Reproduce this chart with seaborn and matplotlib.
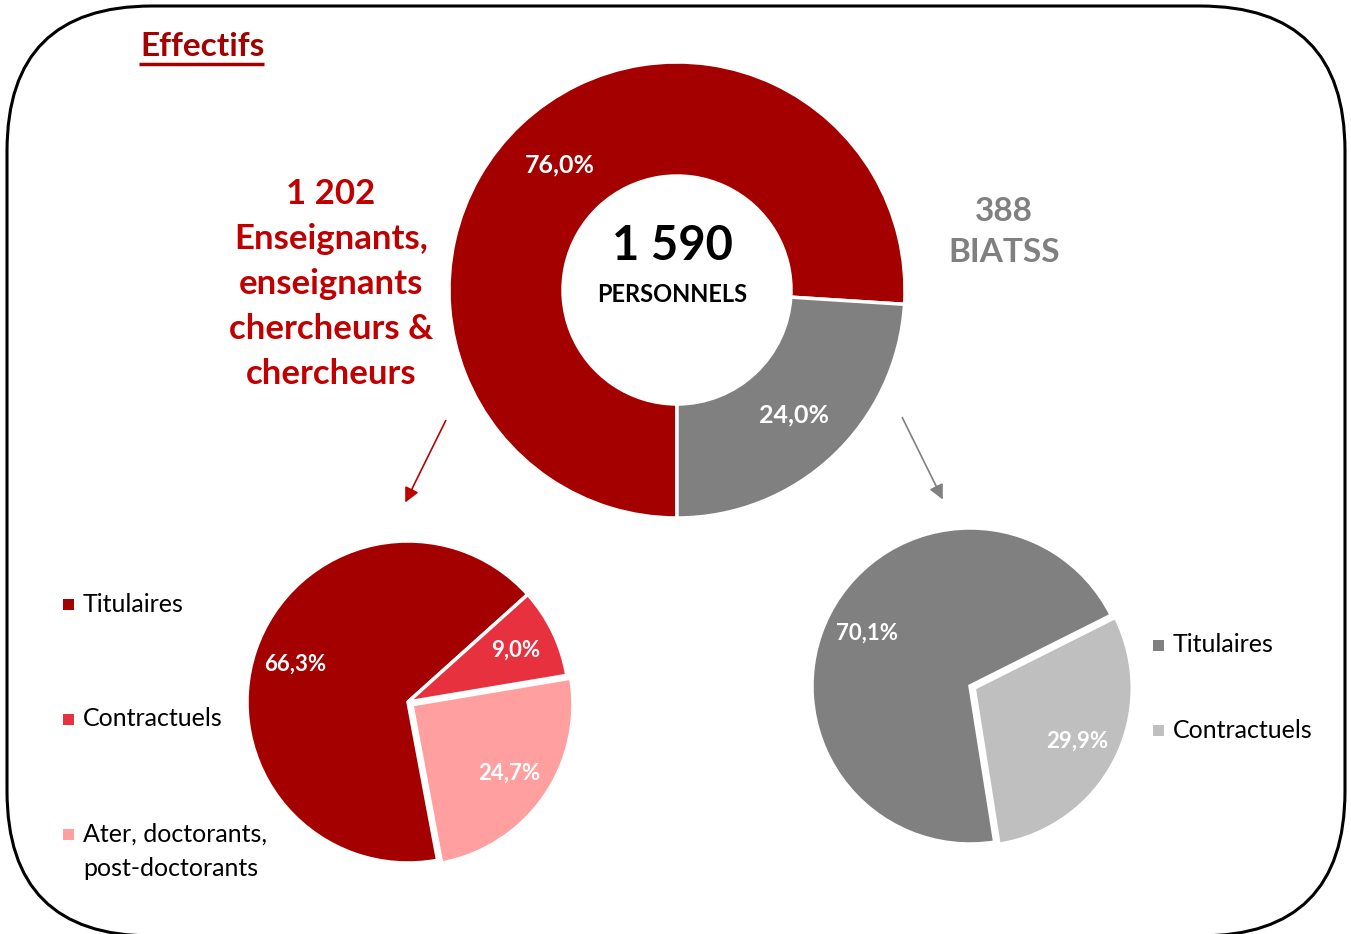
import matplotlib
matplotlib.use("Agg")
import matplotlib.pyplot as plt
import seaborn as sns
from matplotlib.patches import FancyBboxPatch, Rectangle

# Data
total_label = "1 590"
main_groups = ["Enseignants, enseignants chercheurs & chercheurs", "BIATSS"]
main_counts = [1202, 388]
main_pct = [76.0, 24.0]

ens_labels = ["Titulaires", "Contractuels", "Ater, doctorants,\npost-doctorants"]
ens_pct = [66.3, 9.0, 24.7]

biatss_labels = ["Titulaires", "Contractuels"]
biatss_pct = [70.1, 29.9]

RED = "#A50000"
RED_TXT = "#C00000"
GREY = "#808080"
ens_colors = [RED, "#E8313E", "#FF9F9F"]
biatss_colors = [GREY, "#BFBFBF"]

sns.set_theme(style="white")
plt.rcParams["font.family"] = ["Lato", "DejaVu Sans"]

W, H = 1351, 934
fig = plt.figure(figsize=(W / 100, H / 100), dpi=100)

# rounded frame (normal y axis so the rounding is drawn correctly)
frame = fig.add_axes([0, 0, 1, 1])
frame.set_xlim(0, W)
frame.set_ylim(0, H)
frame.axis("off")
R = 145
frame.add_patch(FancyBboxPatch((7 + R, (H - 936) + R), 1338 - 2 * R, 930 - 2 * R,
                               boxstyle=f"round,pad={R}", fc="none", ec="black",
                               lw=2.2, clip_on=True))

# overlay axes in pixel coordinates (y downwards) for text and arrows
ov = fig.add_axes([0, 0, 1, 1])
ov.set_xlim(0, W)
ov.set_ylim(H, 0)
ov.axis("off")


def pie_axes(cx, cy, r):
    half = 1.1 * r
    return fig.add_axes([(cx - half) / W, (H - cy - half) / H, 2 * half / W, 2 * half / H])


def fmt(p):
    return f"{p:.1f}%".replace(".", ",")


# main donut
ax = pie_axes(677, 290, 228)
ax.pie(main_pct, colors=[RED, GREY], startangle=-90, counterclock=False,
       autopct=fmt, pctdistance=0.75,
       wedgeprops=dict(width=0.5, edgecolor="white", linewidth=2.5),
       textprops=dict(color="white", fontsize=18, fontweight="bold"))
ax.set_xlim(-1.1, 1.1)
ax.set_ylim(-1.1, 1.1)
ax.set_aspect("equal")

# left pie
ax2 = pie_axes(408, 702, 161)
ax2.pie(ens_pct, colors=ens_colors, startangle=-79.4, counterclock=False,
        autopct=fmt, pctdistance=0.74, explode=[0, 0, 0.03],
        wedgeprops=dict(edgecolor="white", linewidth=2.5),
        textprops=dict(color="white", fontsize=16, fontweight="bold"))
ax2.set_xlim(-1.1, 1.1)
ax2.set_ylim(-1.1, 1.1)
ax2.set_aspect("equal")

# right pie
ax3 = pie_axes(970, 686, 158)
ax3.pie(biatss_pct, colors=biatss_colors, startangle=-81, counterclock=False,
        autopct=fmt, pctdistance=0.73, explode=[0, 0.03],
        wedgeprops=dict(edgecolor="white", linewidth=2.5),
        textprops=dict(color="white", fontsize=16, fontweight="bold"))
ax3.set_xlim(-1.1, 1.1)
ax3.set_ylim(-1.1, 1.1)
ax3.set_aspect("equal")

# title
ov.text(140, 47, "Effectifs", fontsize=24, fontweight="bold", color=RED,
        ha="left", va="center")
ov.plot([139, 264], [64, 64], color=RED, lw=2.5, solid_capstyle="butt")

# centre of donut
ov.text(672, 246, total_label, fontsize=34, fontweight="bold", color="black",
        ha="center", va="center")
ov.text(672, 294, "PERSONNELS", fontsize=17, fontweight="bold", color="black",
        ha="center", va="center")

# group labels
left_txt = f"{main_counts[0]:,}".replace(",", " ") + "\nEnseignants,\nenseignants\nchercheurs &\nchercheurs"
ov.text(331, 284, left_txt, fontsize=25, fontweight="bold", color=RED_TXT,
        ha="center", va="center", linespacing=1.5)
ov.text(1004, 232, f"{main_counts[1]}\nBIATSS", fontsize=24, fontweight="bold", color=GREY,
        ha="center", va="center", linespacing=1.5)

# arrows
ov.annotate("", xy=(404, 505), xytext=(447, 418),
            arrowprops=dict(arrowstyle="-|>", color=RED_TXT, lw=1.2, mutation_scale=22))
ov.annotate("", xy=(944, 502), xytext=(901, 415),
            arrowprops=dict(arrowstyle="-|>", color=GREY, lw=1.2, mutation_scale=22))

# legends
for y, lab, c in zip([604, 719, 834], ens_labels, ens_colors):
    ov.add_patch(Rectangle((63, y - 5), 11, 11, color=c, lw=0))
    if "\n" in lab:
        ov.text(83, y - 11, lab, fontsize=18, color="black", ha="left", va="top", linespacing=1.6)
    else:
        ov.text(83, y, lab, fontsize=18, color="black", ha="left", va="center")

for y, lab, c in zip([645, 730], biatss_labels, biatss_colors):
    ov.add_patch(Rectangle((1153, y - 5), 11, 11, color=c, lw=0))
    ov.text(1173, y, lab, fontsize=18, color="black", ha="left", va="center")

fig.savefig("out.png", dpi=100)
